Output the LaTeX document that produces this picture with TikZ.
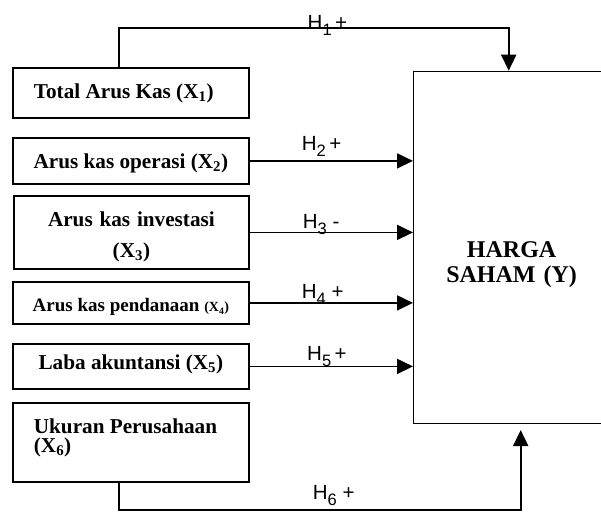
\documentclass[tikz,border=0pt]{standalone}
\usepackage{fontspec}
\setmainfont{Liberation Serif}
\newfontfamily\hypfont{Liberation Sans}
\usepackage{tikz}
\usetikzlibrary{arrows.meta}

\newcommand{\hsub}[1]{\raisebox{-6.5pt}{\fontsize{16.5}{18}\selectfont#1}}
\newcommand{\wordsp}{\spaceskip=\fontdimen2\font plus \fontdimen3\font minus \fontdimen4\font\relax}

\tikzset{
  varbox/.style={draw, line width=1.8pt, inner ysep=0pt, anchor=north west,
    font=\bfseries\fontsize{21.2}{24}\selectfont},
  hyp/.style={anchor=base west, inner sep=0pt, font=\hypfont\fontsize{20.5}{24}\selectfont},
  link/.style={line width=1.8pt},
  tip/.style={-{Triangle[length=16pt,width=15pt]}}
}

\begin{document}
\begin{tikzpicture}[x=1pt,y=1pt,yscale=-1,xscale=1]
    \useasboundingbox (0,0) rectangle (601,512); %set diagram as 601 x 512
    \clip (0,0) rectangle (601,512);

    %Shape: Rectangle [id:x1]
    \node[varbox, text width=194pt, inner xsep=21pt, align=left, text height=30.3pt, text depth=19.7pt] (x1) at (12,67) {\wordsp Total Arus Kas (X\textsubscript{1})};
    %Shape: Rectangle [id:x2]
    \node[varbox, minimum width=236pt, align=center, text height=30.7pt, text depth=15.3pt] (x2) at (12,137) {Arus kas operasi (X\textsubscript{2})};
    %Shape: Rectangle [id:x3]
    \node[varbox, text width=215pt, inner xsep=10pt, align=center, text height=30.7pt, text depth=42.3pt, font=\bfseries\fontsize{21.2}{31}\selectfont] (x3) at (13,195) {\wordsp Arus kas investasi\\(X\textsubscript{3})};
    %Shape: Rectangle [id:x4]
    \node[varbox, minimum width=236pt, align=center, text height=30pt, text depth=12pt, font=\bfseries\fontsize{19}{22}\selectfont] (x4) at (12,281) {Arus kas pendanaan {\fontsize{14}{16}\selectfont(X\textsubscript{4})}};
    %Shape: Rectangle [id:x5]
    \node[varbox, minimum width=236pt, align=center, text height=25.3pt, text depth=19.7pt] (x5) at (12,343) {Laba akuntansi (X\textsubscript{5})};
    %Shape: Rectangle [id:x6]
    \node[varbox, text width=194pt, inner xsep=21pt, align=left, text height=30.3pt, text depth=48.7pt, font=\bfseries\fontsize{21.2}{19.5}\selectfont] (x6) at (12,402) {\wordsp Ukuran Perusahaan\\(X\textsubscript{6})};
    %Shape: Rectangle [id:y]
    \node[varbox, line width=1.2pt, text width=196pt, inner xsep=0pt, align=center, text height=186pt, text depth=166pt, font=\bfseries\fontsize{24}{25.5}\selectfont] (y) at (413,70.7) {\wordsp HARGA\\SAHAM (Y)};

    %Straight Lines [id:h1]
    \coordinate (c1) at (508.7,28);
    \draw[link,tip] ([xshift=-12pt]x1.north) |- (c1) -- (c1 |- y.north);
    %Straight Lines [id:h2]
    \draw[link,tip] (x2.east) -- (x2.east -| y.west);
    %Straight Lines [id:h3]
    \draw[link,tip] (x3.east) -- (x3.east -| y.west);
    %Straight Lines [id:h4]
    \draw[link,tip] (x4.east) -- (x4.east -| y.west);
    %Straight Lines [id:h5]
    \draw[link,tip] (x5.east) -- (x5.east -| y.west);
    %Straight Lines [id:h6]
    \coordinate (c6) at (520.7,510);
    \coordinate (c6tip) at (520.7,430);
    \draw[link,tip] ([xshift=-12pt]x6.south) |- (c6) -- (c6tip);

    % Text Node
    \node[hyp] (h1) at (307.5,29) {H\hsub{1}\,+};
    % Text Node
    \node[hyp] (h2) at (301.7,150) {H\hsub{2}\,+};
    % Text Node
    \node[hyp] (h3) at (302.7,228) {H\hsub{3} -};
    % Text Node
    \node[hyp] (h4) at (301.7,298) {H\hsub{4} +};
    % Text Node
    \node[hyp] (h5) at (307,360) {H\hsub{5}\,+};
    % Text Node
    \node[hyp] (h6) at (312.7,499) {H\hsub{6} +};
\end{tikzpicture}
\end{document}
